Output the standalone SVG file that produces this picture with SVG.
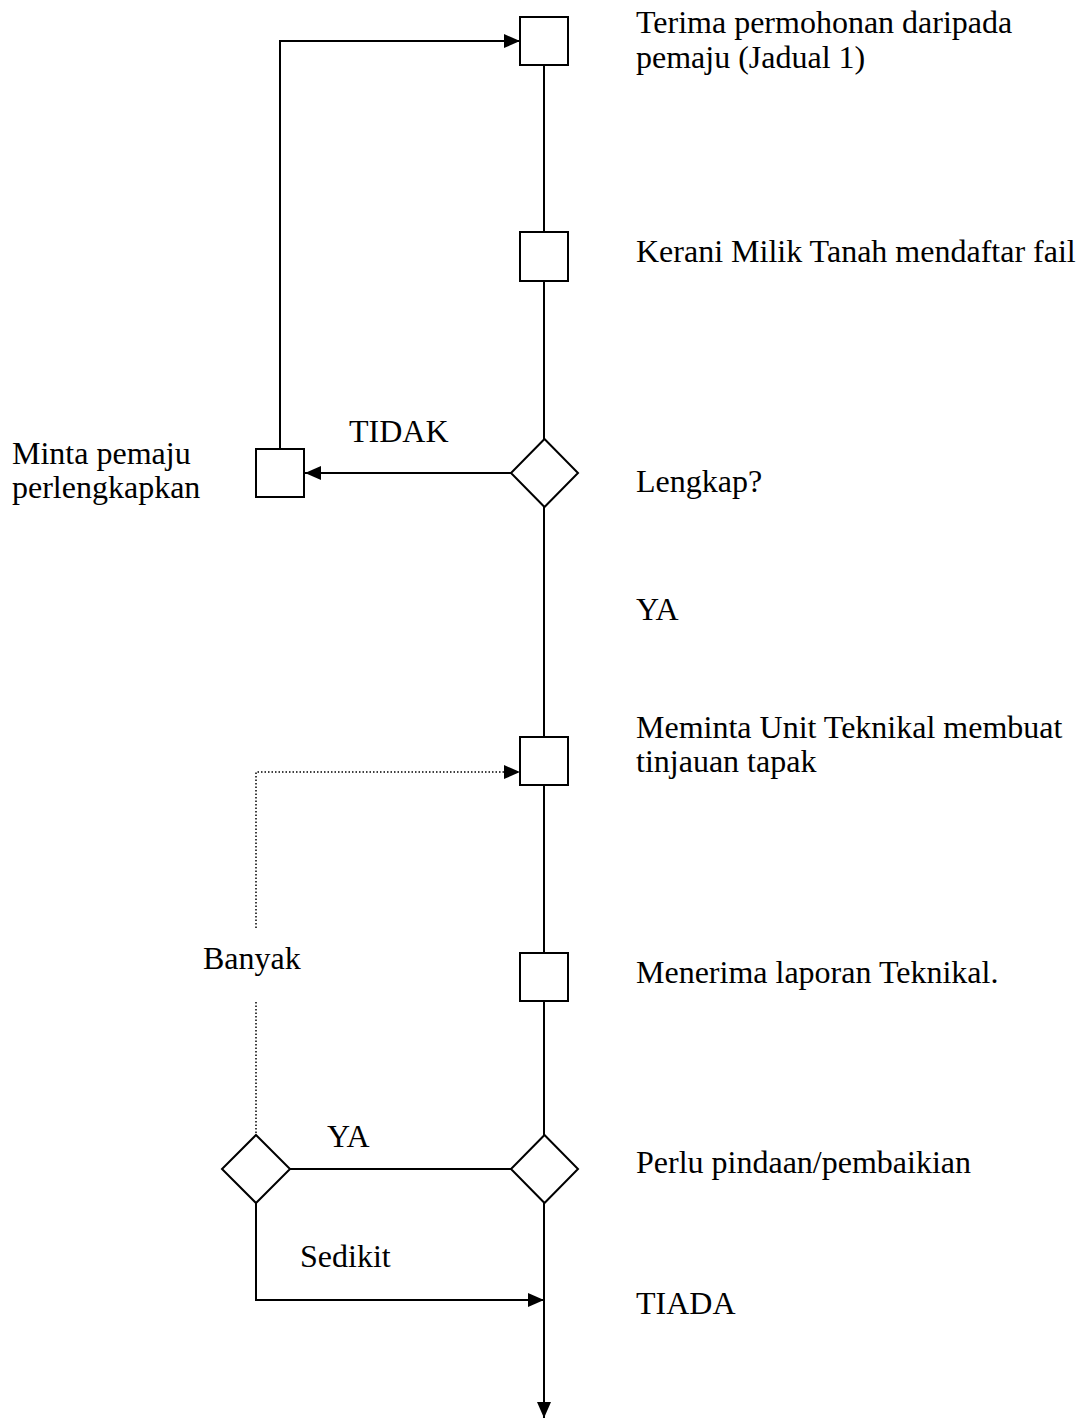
<svg xmlns="http://www.w3.org/2000/svg" width="1086" height="1418" viewBox="0 0 1086 1418">
<style>
.n{fill:#fff;stroke:#000;stroke-width:2}
.c{fill:none;stroke:#000;stroke-width:2}
.d{fill:none;stroke:#000;stroke-width:1.5;stroke-dasharray:1.5 2}
text{font-family:"Liberation Serif","Times New Roman",serif;font-size:32px;fill:#000}
</style>
<defs>
<marker id="ah" markerUnits="userSpaceOnUse" markerWidth="16" markerHeight="14" refX="16" refY="7" orient="auto">
<path d="M0,0 L16,7 L0,14 Z" fill="#000"/>
</marker>
</defs>
<rect width="1086" height="1418" fill="#fff"/>
<g id="connectors">
<path class="c" d="M544,65 V232"/>
<path class="c" d="M544,281 V439"/>
<path class="c" d="M544,507 V737"/>
<path class="c" d="M544,785 V953"/>
<path class="c" d="M544,1001 V1135"/>
<path class="c" d="M544,1203 V1418" marker-end="url(#ah)"/>
<path class="c" d="M280,449 V41 H520" marker-end="url(#ah)"/>
<path class="c" d="M511,473 H305" marker-end="url(#ah)"/>
<path class="c" d="M290,1169 H511"/>
<path class="c" d="M256,1203 V1300 H544" marker-end="url(#ah)"/>
<path class="d" d="M256,928 V772 H520" marker-end="url(#ah)"/>
<path class="d" d="M256,1002 V1135"/>
</g>
<g id="n1"><rect class="n" x="520" y="17" width="48" height="48"/>
<text x="636" y="33">Terima permohonan daripada</text><text x="636" y="68">pemaju (Jadual 1)</text></g>
<g id="n2"><rect class="n" x="520" y="232" width="48" height="49"/>
<text x="636" y="262">Kerani Milik Tanah mendaftar fail</text></g>
<g id="n3"><polygon class="n" points="544.5,439 578,473 544.5,507 511,473"/>
<text x="636" y="492">Lengkap?</text></g>
<g id="n4"><rect class="n" x="256" y="449" width="48" height="48"/>
<text x="12" y="464">Minta pemaju</text><text x="12" y="498">perlengkapkan</text></g>
<g id="n5"><rect class="n" x="520" y="737" width="48" height="48"/>
<text x="636" y="738">Meminta Unit Teknikal membuat</text><text x="636" y="772">tinjauan tapak</text></g>
<g id="n6"><rect class="n" x="520" y="953" width="48" height="48"/>
<text x="636" y="983">Menerima laporan Teknikal.</text></g>
<g id="n7"><polygon class="n" points="544.5,1135 578,1169 544.5,1203 511,1169"/>
<text x="636" y="1173">Perlu pindaan/pembaikian</text></g>
<g id="n8"><polygon class="n" points="256,1135 290,1169 256,1203 222,1169"/></g>
<g id="labels">
<text x="349" y="442">TIDAK</text>
<text x="636" y="620">YA</text>
<text x="203" y="969">Banyak</text>
<text x="327" y="1147">YA</text>
<text x="300" y="1267">Sedikit</text>
<text x="636" y="1314">TIADA</text>
</g>
</svg>
